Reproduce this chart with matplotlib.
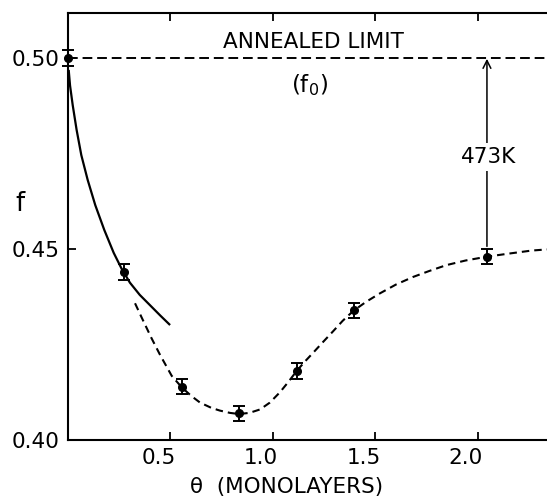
import matplotlib
matplotlib.use("Agg")
import matplotlib.pyplot as plt
import matplotlib.transforms as mtransforms

# ---------------- data ----------------
theta_pts = [0.0, 0.273, 0.555, 0.833, 1.115, 1.393, 2.044]
f_pts = [0.500, 0.4440, 0.4140, 0.4070, 0.4181, 0.4340, 0.4480]
f_err = [0.002, 0.002, 0.002, 0.002, 0.002, 0.002, 0.002]

# solid (early) curve
solid_theta = [0.0034, 0.010, 0.0229, 0.042, 0.0649, 0.096, 0.133, 0.177, 0.223,
               0.262, 0.302, 0.350, 0.400, 0.450, 0.498]
solid_f = [0.4969, 0.4928, 0.4877, 0.4812, 0.4746, 0.4681, 0.4615, 0.4550, 0.4490,
           0.4448, 0.4412, 0.4380, 0.4353, 0.4326, 0.4301]

# dashed (fit) curve
dash_theta = [0.327, 0.360, 0.408, 0.450, 0.506, 0.555, 0.600, 0.644, 0.700, 0.741,
              0.790, 0.834, 0.885, 0.937, 0.985, 1.034, 1.075, 1.116, 1.155, 1.197,
              1.245, 1.294, 1.340, 1.392, 1.455, 1.522, 1.600, 1.684, 1.765, 1.847,
              1.940, 2.044, 2.150, 2.262, 2.337]
dash_f = [0.4358, 0.4320, 0.4266, 0.4222, 0.4168, 0.4138, 0.4116, 0.4098, 0.4084, 0.4077,
          0.4071, 0.4068, 0.4071, 0.4080, 0.4098, 0.4125, 0.4152, 0.4181, 0.4205, 0.4229,
          0.4257, 0.4285, 0.4312, 0.4338, 0.4362, 0.4384, 0.4407, 0.4427, 0.4443, 0.4458,
          0.4470, 0.4480, 0.4488, 0.4496, 0.4499]

annealed_limit = 0.50
arrow_theta = 2.044
x_ticks = [0.5, 1.0, 1.5, 2.0]
x_ticklabels = ["0.5", "1.0", "1.5", "2.0"]
y_ticks = [0.40, 0.45, 0.50]
y_ticklabels = ["0.40", "0.45", "0.50"]

plt.rcParams["font.family"] = ["DejaVu Sans"]
plt.rcParams["mathtext.fontset"] = "dejavusans"
FS = 15.5

fig = plt.figure(figsize=(5.47, 4.99), dpi=100)
ax = fig.add_axes([68 / 547, 1 - 440 / 499, 1 - 68 / 547, (440 - 13) / 499])

ax.set_xlim(0, 2.337)
ax.set_ylim(0.40, 0.5118)

ax.spines["right"].set_visible(False)
for s in ["left", "bottom", "top"]:
    ax.spines[s].set_linewidth(1.5)

ax.set_xticks(x_ticks)
ax.set_xticklabels(x_ticklabels, fontsize=FS)
ax.set_yticks(y_ticks)
ax.set_yticklabels(y_ticklabels, fontsize=FS)
ax.tick_params(axis="x", direction="in", length=6, width=1.3, top=True, pad=6)
ax.tick_params(axis="y", direction="in", length=6, width=1.3, pad=6)

offset = mtransforms.ScaledTranslation(-12 / 100, 0, fig.dpi_scale_trans)
for lab in ax.get_xticklabels():
    lab.set_transform(lab.get_transform() + offset)

# annealed limit line
ax.plot([0, 2.337], [annealed_limit, annealed_limit], color="black", lw=1.4,
        linestyle=(0, (5, 2.5)), clip_on=False)

# curves
ax.plot(solid_theta, solid_f, color="black", lw=1.6, solid_capstyle="butt",
        solid_joinstyle="round")
ax.plot(dash_theta, dash_f, color="black", lw=1.5, linestyle=(0, (3.6, 2.4)))

# data points
ax.errorbar(theta_pts, f_pts, yerr=f_err, fmt="o", color="black", ms=5.5,
            capsize=4.5, elinewidth=1.4, capthick=1.4, clip_on=False, zorder=5)

# arrow with label
ax.annotate("", xy=(arrow_theta, 0.4998), xytext=(arrow_theta, 0.4507),
            arrowprops=dict(arrowstyle="->", color="black", lw=1.1,
                            mutation_scale=14, shrinkA=0, shrinkB=0))
ax.text(2.051, 0.4740, "473K", ha="center", va="center", fontsize=FS,
        bbox=dict(facecolor="white", edgecolor="none", pad=3))

ax.text(1.198, 0.5043, "ANNEALED LIMIT", ha="center", va="center", fontsize=FS)
ax.text(1.180, 0.4929, r"(f$_\mathregular{0}$)", ha="center", va="center", fontsize=FS + 1)

fig.text(20 / 547, 1 - 204 / 499, "f", ha="center", va="center", fontsize=FS + 3)
fig.text(287 / 547, 1 - 487 / 499, "θ  (MONOLAYERS)", ha="center", va="center",
         fontsize=FS)

fig.savefig("out.png", dpi=100)
